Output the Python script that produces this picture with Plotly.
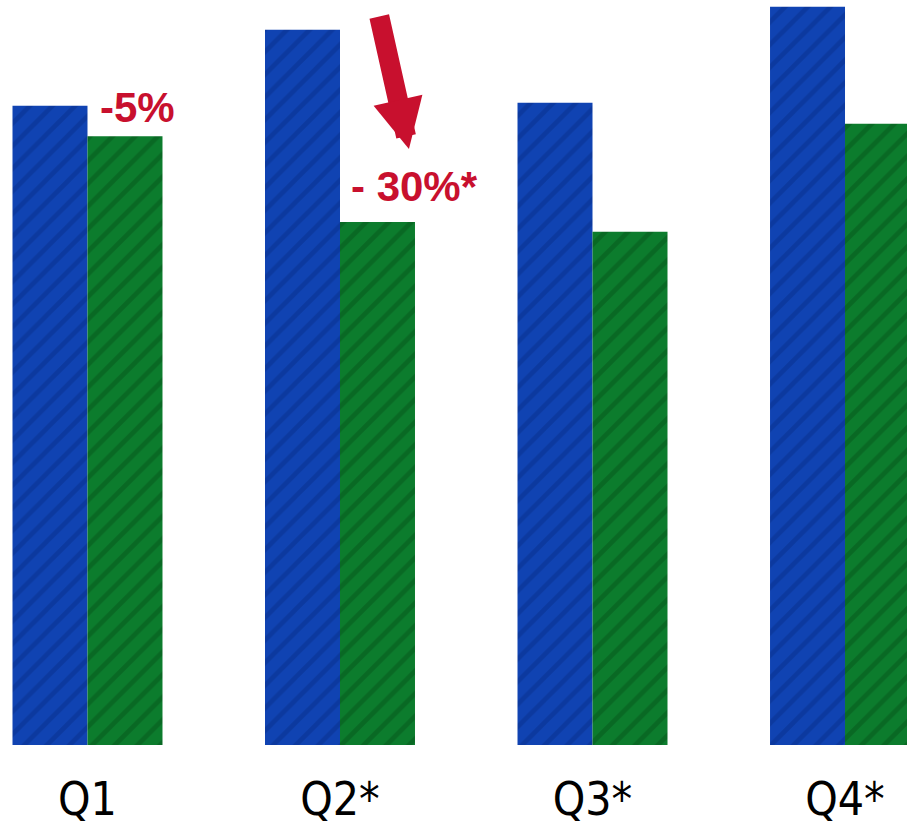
import plotly.graph_objects as go

# Quarterly index values (blue = prior period, green = current period)
quarters = ["Q1", "Q2*", "Q3*", "Q4*"]
blue_values = [85.8, 96.0, 86.2, 99.1]
green_values = [81.7, 70.2, 68.9, 83.4]

# Change callouts
change_labels = ["-5%", "- 30%*"]

RED = "#C8102E"
BLUE = "#1043B2"
BLUE_GRAIN = "#07308C"
GREEN = "#0C7C2D"
GREEN_GRAIN = "#05561B"

fig = go.Figure()
fig.add_bar(
    x=list(range(len(quarters))), y=blue_values, name="blue",
    marker=dict(color=BLUE, line=dict(width=0),
                pattern=dict(shape="/", fgcolor=BLUE_GRAIN, fgopacity=0.5,
                             size=16, solidity=0.3)),
)
fig.add_bar(
    x=list(range(len(quarters))), y=green_values, name="green",
    marker=dict(color=GREEN, line=dict(width=0),
                pattern=dict(shape="/", fgcolor=GREEN_GRAIN, fgopacity=0.5,
                             size=16, solidity=0.3)),
)

label_font = dict(family="Liberation Sans, Arial, sans-serif", size=42, color=RED)

# "-5%" beside the Q1 pair
fig.add_annotation(x=0.2, y=85.6, text="<b>%s</b>" % change_labels[0],
                   showarrow=False, font=label_font, xanchor="center", yanchor="middle")

# Downward arrow and "- 30%*" for Q2
fig.add_annotation(x=1.273, y=80.0, ax=-30, ay=-134, text="",
                   showarrow=True, arrowhead=2, arrowsize=0.5, arrowwidth=20,
                   arrowcolor=RED)
fig.add_annotation(x=1.295, y=75.0, text="<b>%s</b>" % change_labels[1],
                   showarrow=False, font=label_font, xanchor="center", yanchor="middle")

fig.update_layout(
    width=907, height=828,
    margin=dict(l=0, r=0, t=0, b=83),
    paper_bgcolor="white", plot_bgcolor="white",
    barmode="group", bargap=0.406, bargroupgap=0,
    showlegend=False,
    xaxis=dict(
        range=[-0.3465, 3.2455], automargin=False,
        tickmode="array", tickvals=list(range(len(quarters))), ticktext=quarters,
        showgrid=False, zeroline=False, showline=False, ticks="",
        ticklabelstandoff=23,
        tickfont=dict(family="DejaVu Sans Condensed, DejaVu Sans, sans-serif",
                      size=46, color="black"),
    ),
    yaxis=dict(range=[0, 100], visible=False, showgrid=False, zeroline=False,
               automargin=False),
)

fig.write_html("out.html")
